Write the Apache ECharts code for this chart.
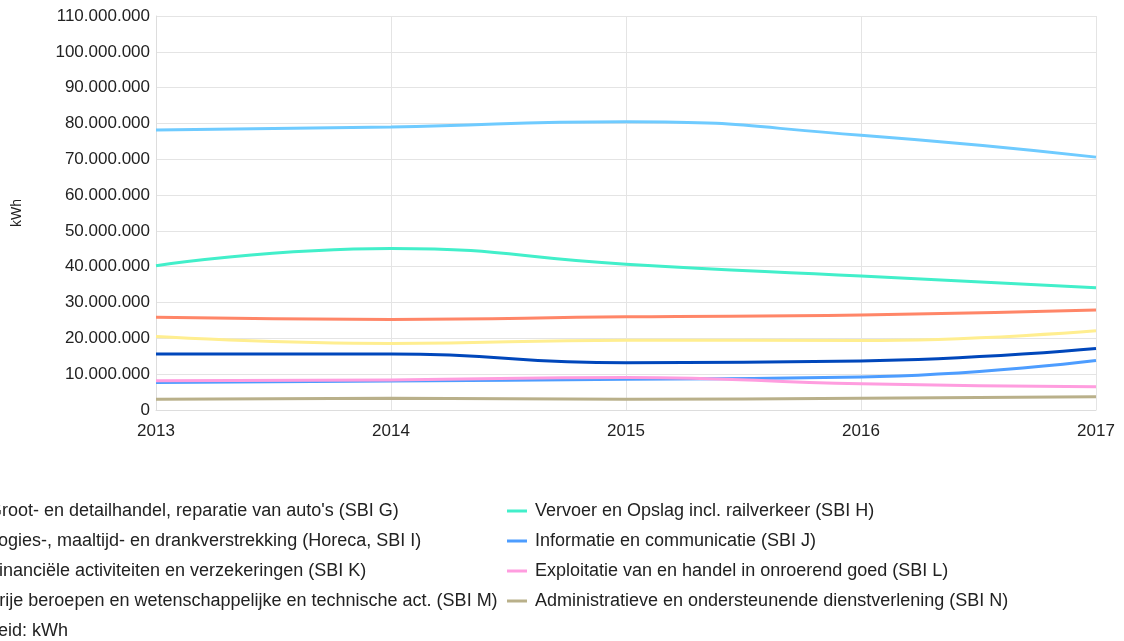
<!DOCTYPE html>
<html>
<head>
<meta charset="utf-8">
<script src="https://cdn.jsdelivr.net/npm/echarts@6/dist/echarts.min.js"></script>
<style>
  html, body { margin: 0; padding: 0; background: #fff; }
  #chart { width: 1124px; height: 641px; }
</style>
</head>
<body>
<div id="chart"></div>
<script>
    // jaren op de x-as
    const years = ['2013', '2014', '2015', '2016', '2017'];

    // verbruik per sector in kWh
    const sbiG = [78200000, 79000000, 80500000, 76700000, 70600000];
    const sbiH = [40300000, 45100000, 40700000, 37400000, 34100000];
    const sbiI = [25900000, 25300000, 26000000, 26500000, 27900000];
    const sbiJ = [7700000, 8100000, 8600000, 9200000, 13800000];
    const sbiK = [15600000, 15600000, 13200000, 13700000, 17200000];
    const sbiL = [8200000, 8400000, 9100000, 7300000, 6500000];
    const sbiM = [20500000, 18600000, 19500000, 19400000, 22100000];
    const sbiN = [3000000, 3300000, 3000000, 3300000, 3700000];

    const names = {
        G: "Groot- en detailhandel, reparatie van auto's (SBI G)",
        H: 'Vervoer en Opslag incl. railverkeer (SBI H)',
        I: 'Logies-, maaltijd- en drankverstrekking (Horeca, SBI I)',
        J: 'Informatie en communicatie (SBI J)',
        K: 'Financiële activiteiten en verzekeringen (SBI K)',
        L: 'Exploitatie van en handel in onroerend goed (SBI L)',
        M: 'Vrije beroepen en wetenschappelijke en technische act. (SBI M)',
        N: 'Administratieve en ondersteunende dienstverlening (SBI N)'
    };

    const font = '"Liberation Sans", Arial, sans-serif';

    function line(name, data, color) {
        return {
            name: name,
            type: 'line',
            data: data,
            smooth: 0.5,
            symbol: 'none',
            color: color,
            lineStyle: { width: 3, color: color }
        };
    }

    const legendBase = {
        orient: 'vertical',
        top: 502,
        padding: 0,
        itemGap: 12,
        itemWidth: 20,
        itemHeight: 3,
        icon: 'rect',
        textStyle: { fontFamily: font, fontSize: 18, color: '#222', padding: [0, 0, 0, 3] }
    };

    let chart = echarts.init(document.getElementById('chart'));
    chart.setOption({
        animation: false,
        backgroundColor: '#fff',
        grid: { left: 156, right: 28, top: 16, bottom: 231 },
        legend: [
            Object.assign({}, legendBase, { left: -40, data: [names.G, names.I, names.K, names.M] }),
            Object.assign({}, legendBase, { left: 507, data: [names.H, names.J, names.L, names.N] })
        ],
        graphic: [{
            type: 'text',
            left: -44,
            top: 622,
            style: { text: 'Eenheid: kWh', font: '18px ' + font, fill: '#222' }
        }],
        xAxis: {
            type: 'category',
            data: years,
            boundaryGap: false,
            axisLine: { lineStyle: { color: '#ddd' } },
            axisTick: { show: false },
            axisLabel: { fontFamily: font, fontSize: 17, color: '#222', margin: 13 },
            splitLine: { show: true, lineStyle: { color: '#e4e4e4', width: 1 } }
        },
        yAxis: {
            type: 'value',
            min: 0,
            max: 110000000,
            interval: 10000000,
            name: 'kWh',
            nameLocation: 'middle',
            nameGap: 132,
            nameTextStyle: { fontFamily: font, fontSize: 14, color: '#222' },
            axisLine: { show: true, lineStyle: { color: '#ddd' } },
            axisTick: { show: false },
            axisLabel: {
                fontFamily: font, fontSize: 17, color: '#222', margin: 6,
                formatter: function (v) {
                    return String(v).replace(/\B(?=(\d{3})+(?!\d))/g, '.');
                }
            },
            splitLine: { lineStyle: { color: '#e4e4e4', width: 1 } }
        },
        series: [
            line(names.G, sbiG, '#6fcbff'),
            line(names.H, sbiH, '#42efca'),
            line(names.I, sbiI, '#ff8668'),
            line(names.M, sbiM, '#ffee90'),
            line(names.K, sbiK, '#0047bb'),
            line(names.J, sbiJ, '#4d9dff'),
            line(names.L, sbiL, '#ff9ddf'),
            line(names.N, sbiN, '#b9b08a')
        ]
    });
</script>
</body>
</html>
